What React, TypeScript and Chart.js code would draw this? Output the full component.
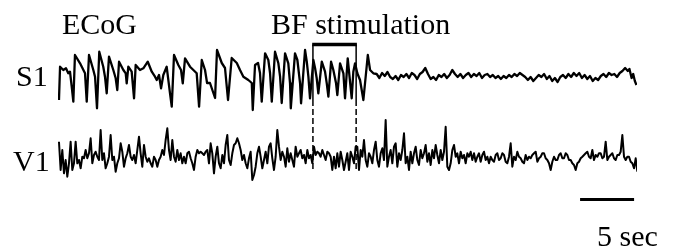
import React, { useEffect, useRef } from "react";
import { Chart, registerables } from "chart.js";

Chart.register(...registerables);

// ---- S1 trace (time in s, amplitude in µV) ----
const S1_T = [
  0.09, 0.19, 0.49, 0.74, 0.95, 1.11, 1.27, 1.42, 1.57, 2.04,
  2.5, 2.66, 2.87, 3.27, 3.43, 3.61, 3.82, 4.19, 4.35, 4.51,
  4.72, 5.12, 5.34, 5.49, 5.65, 6.05, 6.27, 6.36, 6.51, 6.82,
  7.04, 7.19, 7.59, 7.9, 8.31, 8.68, 8.98, 9.14, 9.35, 9.54,
  9.75, 10.06, 10.37, 10.53, 10.74, 11.14, 11.39, 11.55, 11.76, 12.22,
  12.84, 13.06, 13.31, 13.61, 13.8, 14.07, 14.54, 14.72, 15.16, 15.46,
  15.74, 16.08, 16.55, 16.85, 17.16, 17.62, 17.94, 18.03, 18.24, 18.52,
  18.7, 18.86, 19.17, 19.47, 19.63, 19.79, 20.09, 20.4, 20.56, 20.71,
  21.02, 21.32, 21.48, 21.55, 21.94, 22.16, 22.41, 22.5, 22.87, 23.03,
  23.18, 23.33, 23.64, 23.8, 23.95, 24.1, 24.42, 24.72, 24.88, 25.03,
  25.28, 25.49, 25.74, 25.86, 26.11, 26.42, 26.57, 26.82, 27.19, 27.34,
  27.5, 27.71, 27.96, 28.27, 28.68, 28.89, 29.19,
  29.5, 29.75, 30.0, 30.25, 30.5, 30.75, 31.0, 31.25, 31.5, 31.75,
  32.0, 32.25, 32.5, 32.75, 33.0, 33.25, 33.5, 33.75, 34.0, 34.25,
  34.5, 34.75, 35.0, 35.25, 35.5, 35.75, 36.0, 36.25, 36.5, 36.75,
  37.0, 37.25, 37.5, 37.75, 38.0, 38.25, 38.5, 38.75, 39.0, 39.25,
  39.5, 39.75, 40.0, 40.25, 40.5, 40.75, 41.0, 41.25, 41.5, 41.75,
  42.0, 42.25, 42.5, 42.75, 43.0, 43.25, 43.5, 43.75, 44.0, 44.25,
  44.5, 44.75, 45.0, 45.25, 45.5, 45.75, 46.0, 46.25, 46.5, 46.75,
  47.0, 47.25, 47.5, 47.75, 48.0, 48.25, 48.5, 48.75, 49.0, 49.25,
  49.5, 49.75, 50.0, 50.25, 50.5, 50.75, 51.0, 51.25, 51.5, 51.75,
  52.0, 52.25, 52.5, 52.75, 52.9, 53.1, 53.25, 53.4, 53.55,
];
const S1_V = [
  -250, 83, 50, 67, 17, 33, -117, -267, 200, 117,
  17, -267, 200, 50, -17, -333, 233, 83, -17, -183,
  183, 50, -33, -150, 133, 50, 17, -83, 83, 33,
  -233, 100, 50, 67, 133, 33, -17, -50, 0, -133,
  0, 83, -183, -317, 200, 100, 50, -83, 167, 83,
  17, -317, 150, 50, -80, -80, -230, 250, 120, 70,
  -250, 170, 120, 50, -17, -50, -80, -350, 100, 120,
  20, -267, 217, 150, 20, -267, 233, 117, -17, -280,
  217, 117, -83, -333, 217, 150, -83, -283, 250, 133,
  -17, -233, 150, 67, -33, -183, 133, 33, -83, -217,
  133, 50, -83, -200, 117, 17, -233, 167, -233, 33,
  117, 17, -50, -250, 200, 50, 17,
  10, -30, 20, -10, 30, -20, -40, -10, -50, 0,
  -20, 10, -30, 20, 0, -40, 10, 30, 70, 10,
  -40, -20, -50, 0, -20, 10, -30, 0, 50, 10,
  -20, 10, -30, 0, 20, -20, 10, -10, 20, -30,
  0, 10, -20, 0, -30, -10, -40, -10, -30, 0,
  -20, 10, -10, 20, 0, -20, -50, -20, -60, -30,
  0, -20, 10, -40, -10, -60, -30, -70, -20, 0,
  -30, 10, -20, 20, -10, 20, -30, 0, -40, -10,
  -60, -30, -50, -10, 10, -20, 20, 0, 10, -20,
  20, 40, 70, 40, 60, -30, 10, -60, -100,
];

// ---- V1 trace: uniform samples (start time, step in s, amplitude in µV) ----
const V1_T0 = 0.09;
const V1_DT = 0.1543;
const V1_V = [
  133, -150, 50, -183, -50, -217, -83, 133, -150, -83,
  133, -83, -50, -133, -17, -33, 50, -33, 17, 167,
  -83, 0, 33, -17, -50, 250, -50, 17, -133, -83,
  -17, 200, -50, -17, -167, -83, -33, 117, 33, -117,
  -33, 17, 100, -17, -50, 0, -83, 50, 183, 17,
  -117, 100, -17, -67, -33, -83, -117, -17, -50, -117,
  -50, -17, 50, 0, 150, 267, 50, -50, 150, -17,
  -67, 50, -50, 17, -83, -17, -83, 17, 33, -33,
  -83, -150, -17, 50, 17,
  33, 17, 0, 33, 50, -83, 117, 17, -183, -17,
  83, -83, -133, 0, -83, 100, 200, -50, -100, 17,
  100, 117, 167, 117, 50, -50, 0, -83, -133, -33,
  33, -250, -200, -117, 17, 83, -17, -133, -50, 33,
  -83, 83, 117, -33, -150, -17, 250, 83, -50, 33,
  -17, -117, 67, -67, 17, -50, -117, 83, -17, 17,
  50, -33, 0, -83, 50, -33, 0, -83, 83, 0,
  33, 17, -17, 50, 0, -50, 33, 17, -17, -150,
  -17, -133, 17, -117, 33, -50, -150,
  -67, 17, -150, 33, -17, -83, 83, 83, -150, 50,
  -17, 150, -50, -117, 17, -17, -83, 50, 133, -50,
  -117, 17, 67, -50, 350, -117, -17, 50, -83, 83,
  117, -117, 17, -50, 50, 217, -83, -17, -150, 33,
  -83, 17, 83, -50, -100, 50, -33, 17, 100, -67,
  17, -100, 50, -33, 100, 0, -83, 50, -50, 33,
  283, -117, -150, -83, 50, 100, -17, 17, -83, 33,
  -33, 0, -83, 17, -17, 33, -50, 17, -67, -17,
  17, -67, 0, 33, -50, -17, -83,
  -17, -50, -67, 0, 17, -50, -33, 17, 0, -67,
  -83, -17, 117, -117, -17, -50, 33, -17, -33, -67,
  -83, 0, -50, -17, -33, 0, 17, 33, -67, -33,
  -17, 17, 17, -33, -50, -83, -150, -67, -17, -50,
  -50, 0, 17, -33, -33, 17, 0, -50, -50, -83,
  -100, -150, -83, -67, -33, -17, 0, 17, 33, -17,
  -33, 50, -50, 0, -17, 17, 17, -33, -17, 133,
  -50, -17, 0, 17, -33, -50, 0, 0, 33, 200,
  -17, -50, -17, -17, -67, -83, -133, -33, -167,
];

// ---- events / annotations ----
const STIM_ON = 23.6;
const STIM_OFF = 27.6;
const SCALE_BAR_START = 48.33;
const SCALE_BAR_LEN = 5;
const TITLE_LEFT = "ECoG";
const TITLE_STIM = "BF stimulation";
const TRACE_LABELS = ["S1", "V1"];
const SCALE_LABEL = "5 sec";

const annotationPlugin = {
  id: "ecogAnnotations",
  afterDatasetsDraw(chart: any) {
    const { ctx, scales } = chart;
    const x = scales.x;
    const ys = scales.yS1;
    const yv = scales.yV1;
    const x1 = x.getPixelForValue(STIM_ON);
    const x2 = x.getPixelForValue(STIM_OFF);
    const top = ys.getPixelForValue(305);
    const solidEnd = ys.getPixelForValue(-250);
    const bottom = yv.getPixelForValue(-160);
    ctx.save();
    ctx.strokeStyle = "#000";
    ctx.lineCap = "butt";
    ctx.lineWidth = 3.5;
    ctx.beginPath();
    ctx.moveTo(x1 - 0.75, top);
    ctx.lineTo(x2 + 0.75, top);
    ctx.stroke();
    ctx.lineWidth = 1.5;
    for (const px of [x1, x2]) {
      ctx.setLineDash([]);
      ctx.beginPath();
      ctx.moveTo(px, top);
      ctx.lineTo(px, solidEnd);
      ctx.stroke();
      ctx.setLineDash([6, 3]);
      ctx.beginPath();
      ctx.moveTo(px, solidEnd);
      ctx.lineTo(px, bottom);
      ctx.stroke();
    }
    ctx.setLineDash([]);
    const by = yv.getPixelForValue(-445);
    ctx.lineWidth = 3;
    ctx.beginPath();
    ctx.moveTo(x.getPixelForValue(SCALE_BAR_START), by);
    ctx.lineTo(x.getPixelForValue(SCALE_BAR_START + SCALE_BAR_LEN), by);
    ctx.stroke();
    ctx.restore();
  },
};

const textStyle: React.CSSProperties = {
  position: "absolute",
  fontFamily: '"Liberation Serif", "Times New Roman", serif',
  fontSize: 30,
  lineHeight: "30px",
  color: "#000",
  whiteSpace: "nowrap",
};

export default function App() {
  const ref = useRef<HTMLCanvasElement | null>(null);

  useEffect(() => {
    if (!ref.current) return;
    const s1 = S1_T.map((t, i) => ({ x: t, y: S1_V[i] }));
    const v1 = V1_V.map((v, i) => ({ x: V1_T0 + i * V1_DT, y: v }));
    const chart = new Chart(ref.current, {
      type: "line",
      data: {
        datasets: [
          {
            label: TRACE_LABELS[0],
            data: s1,
            yAxisID: "yS1",
            borderColor: "#000",
            borderWidth: 2.3,
            borderJoinStyle: "round",
            pointRadius: 0,
            tension: 0,
            fill: false,
          },
          {
            label: TRACE_LABELS[1],
            data: v1,
            yAxisID: "yV1",
            borderColor: "#000",
            borderWidth: 2,
            borderJoinStyle: "round",
            pointRadius: 0,
            tension: 0,
            fill: false,
          },
        ],
      },
      options: {
        animation: false,
        responsive: false,
        events: [],
        layout: { padding: { left: 58, right: 37, top: 0, bottom: 0 } },
        plugins: {
          legend: { display: false },
          tooltip: { enabled: false },
          title: { display: false },
        },
        scales: {
          x: { type: "linear", display: false, min: 0, max: 53.6 },
          yS1: { type: "linear", display: false, min: -1760, max: 750 },
          yV1: { type: "linear", display: false, min: -960, max: 1550 },
        },
      },
      plugins: [annotationPlugin],
    });
    return () => chart.destroy();
  }, []);

  return (
    <div
      style={{
        position: "absolute",
        left: 0,
        top: 0,
        width: 674,
        height: 251,
        background: "#fff",
        overflow: "hidden",
      }}
    >
      <canvas ref={ref} width={674} height={251} style={{ position: "absolute", left: 0, top: 0 }} />
      <div style={{ ...textStyle, left: 62, top: 9 }}>{TITLE_LEFT}</div>
      <div style={{ ...textStyle, left: 271, top: 9 }}>{TITLE_STIM}</div>
      <div style={{ ...textStyle, left: 16, top: 61 }}>{TRACE_LABELS[0]}</div>
      <div style={{ ...textStyle, left: 13, top: 146 }}>{TRACE_LABELS[1]}</div>
      <div style={{ ...textStyle, left: 597, top: 221 }}>{SCALE_LABEL}</div>
    </div>
  );
}
